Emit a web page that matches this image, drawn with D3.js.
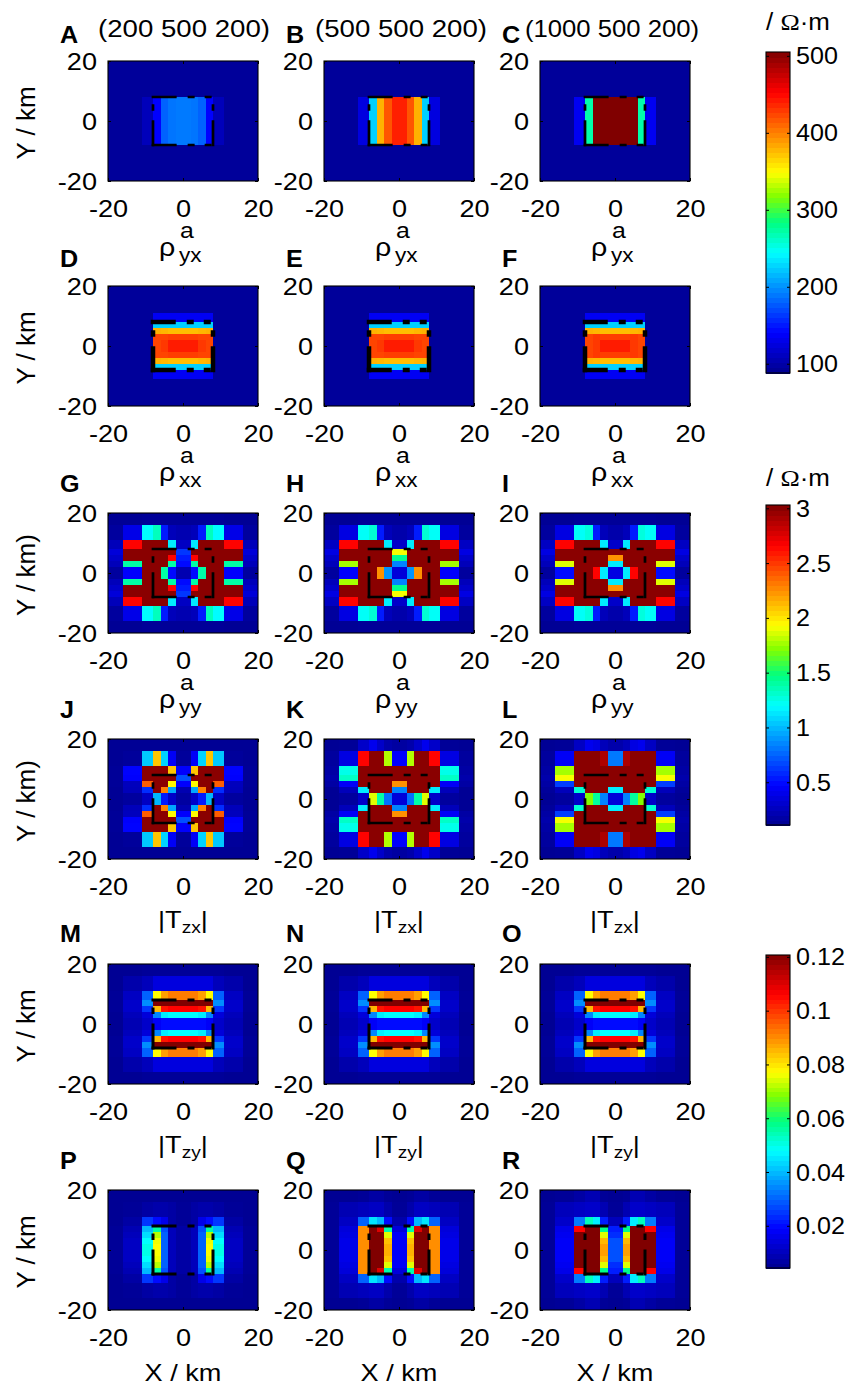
<!DOCTYPE html>
<html><head><meta charset="utf-8">
<script src="https://cdn.jsdelivr.net/npm/d3@7/dist/d3.min.js"></script>
<style>
html,body{margin:0;padding:0;background:#fff}
svg{display:block}
text{font-family:"Liberation Sans",Arial,sans-serif;fill:#000}
</style></head><body>
<script>
// cell edges of one quadrant, km from outside to the centre (the grid is mirrored in x and y)
const edgesKm = [20,16,11,8,6,4,2,0];
const axisTicks = [-20,0,20];
const panelLetters = ["A","B","C","D","E","F","G","H","I","J","K","L","M","N","O","P","Q","R"];
const columnTitles = ["(200 500 200)","(500 500 200)","(1000 500 200)"];
const yLabels = ["Y / km","Y / km","Y / km)","Y / km)","Y / km","Y / km"];
const cbTicks1 = [100,200,300,400,500];
const cbTicks2 = [0.5,1,1.5,2,2.5,3];
const cbTicks3 = [0.02,0.04,0.06,0.08,0.1,0.12];
const cbLabels3 = ["0.02","0.04","0.06","0.08","0.1","0.12"];

// quadrant values: rows |y| 16-20 ... 0-2, columns |x| 16-20 ... 0-2
const panelA=[[93,93,93,93,93,93,93],[93,93,93,93,93,93,93],[93,93,93,93,93,93,93],
 [93,93,108,140,180,188,190],[93,93,108,140,180,188,190],[93,93,108,140,180,188,190],[93,93,108,140,180,188,190]];
const panelB=[[93,93,93,93,93,93,93],[93,93,93,93,93,93,93],[93,93,93,93,93,93,93],
 [93,93,125,225,380,418,440],[93,93,125,225,380,418,440],[93,93,125,225,380,418,440],[93,93,125,225,380,418,440]];
const panelC=[[93,93,93,93,93,93,93],[93,93,93,93,93,93,93],[93,93,93,93,93,93,93],
 [93,93,134,271,505,505,505],[93,93,134,271,505,505,505],[93,93,134,271,505,505,505],[93,93,134,271,505,505,505]];
const panelD=[[93,93,93,93,93,93,93],[93,93,93,93,93,93,93],[93,93,93,135,135,135,135],
 [93,93,93,225,225,225,225],[93,93,93,380,378,375,375],[93,93,93,425,425,428,428],[93,93,93,425,430,442,442]];
const panelE=[[93,93,93,93,93,93,93],[93,93,93,93,93,93,93],[93,93,93,135,135,135,135],
 [93,93,93,225,225,225,225],[93,93,93,380,378,375,375],[93,93,93,425,425,428,428],[93,93,93,425,430,442,442]];
const panelF=[[93,93,93,93,93,93,93],[93,93,93,93,93,93,93],[93,93,93,135,135,135,135],
 [93,93,93,225,225,225,225],[93,93,93,380,378,375,375],[93,93,93,425,430,428,428],[93,93,93,425,430,442,442]];
const panelG=[[.13,.13,.14,.14,.14,.14,.14],[.16,.4,1.2,1.35,.55,.25,.22],[.25,2.66,3,3,3,1.15,.28],
 [.35,3,3,3,3,3,.63],[.3,3,3,3,3,2.66,.55],[.25,1.4,3,3,3,1.4,.5],[.16,.47,3,3,1.4,.5,.22]];
const panelH=[[.13,.13,.14,.14,.14,.14,.14],[.16,.38,1.22,1.3,.55,.25,.2],[.28,2.66,3,3,3,1.15,.3],
 [.38,3,3,3,3,3,1.92],[.3,3,3,3,3,3,1.45],[.25,1.78,3,3,3,3,.85],[.16,.47,3,3,2.25,.9,.35]];
const panelI=[[.13,.13,.14,.14,.14,.14,.14],[.16,.38,1.22,1.28,.55,.25,.2],[.28,2.66,3,3,3,1.15,.3],
 [.38,3,3,3,3,3,3],[.3,3,3,3,3,3,2.25],[.25,1.88,3,3,3,3,1.15],[.16,.5,3,3,2.66,1.15,.38]];
const panelJ=[[.13,.13,.13,.13,.13,.13,.13],[.13,.15,1.05,2.1,1.08,.45,.15],[.14,.48,3,3,3,2.1,.47],
 [.14,.47,3,3,3,3,.7],[.14,.26,2.4,3,3,1.95,.47],[.13,.25,.6,3,2.3,.95,.22],[.13,.16,.28,1,.55,.3,.17]];
const panelK=[[.13,.14,.3,.42,.3,.2,.17],[.16,.38,2.66,3,3,1.8,.47],[.18,1.25,3,3,3,3,3],
 [.2,1.33,3,3,3,3,3],[.18,.45,3,3,3,3,2.25],[.13,.25,1.15,3,3,3,.85],[.13,.16,.3,1.88,1.4,.8,.35]];
const panelL=[[.13,.14,.28,.42,.38,.25,.2],[.16,.45,3,3,3,2.9,.82],[.18,1.78,3,3,3,3,3],
 [.2,1.92,3,3,3,3,3],[.18,.65,3,3,3,3,3],[.15,.25,1.3,3,3,3,1.15],[.13,.16,.3,1.72,1.42,.85,.35]];
const panelM=[[.005,.005,.0055,.0055,.0055,.0055,.0055],[.005,.008,.01,.0145,.0145,.0145,.0145],[.0055,.011,.03,.077,.088,.092,.092],
 [.0055,.012,.035,.121,.121,.121,.121],[.0055,.012,.025,.085,.104,.106,.106],[.005,.01,.014,.034,.046,.048,.048],[.005,.009,.012,.018,.02,.02,.02]];
const panelN=[[.005,.005,.0055,.0055,.0055,.0055,.0055],[.005,.008,.01,.0145,.0145,.0145,.0145],[.0055,.011,.03,.077,.088,.092,.092],
 [.0055,.012,.035,.121,.121,.121,.121],[.0055,.012,.025,.085,.104,.106,.106],[.005,.01,.014,.034,.046,.048,.048],[.005,.009,.012,.018,.02,.02,.02]];
const panelO=[[.005,.005,.0055,.0055,.0055,.0055,.0055],[.005,.008,.01,.0145,.0145,.0145,.0145],[.0055,.011,.03,.077,.088,.092,.092],
 [.0055,.012,.035,.121,.121,.121,.121],[.0055,.012,.025,.085,.104,.106,.106],[.005,.01,.014,.034,.046,.048,.048],[.005,.009,.012,.018,.02,.02,.02]];
const panelP=[[.005,.005,.005,.005,.005,.005,.005],[.005,.0055,.007,.008,.008,.007,.0055],[.005,.007,.025,.02,.016,.007,.0055],
 [.0055,.009,.04,.056,.028,.01,.007],[.0055,.01,.044,.072,.03,.01,.007],[.0055,.011,.048,.076,.03,.01,.007],[.0055,.011,.05,.077,.03,.01,.007]];
const panelQ=[[.005,.005,.0055,.007,.007,.0055,.005],[.0055,.009,.01,.011,.011,.008,.0055],[.0055,.011,.03,.045,.04,.02,.008],
 [.0055,.014,.09,.121,.11,.055,.014],[.0055,.015,.09,.121,.121,.075,.018],[.0055,.016,.09,.121,.121,.084,.018],[.0055,.016,.09,.121,.121,.086,.018]];
const panelR=[[.005,.0055,.007,.009,.009,.0055,.005],[.0055,.01,.011,.012,.012,.009,.0055],[.0055,.012,.033,.054,.046,.022,.01],
 [.0055,.016,.106,.121,.121,.058,.022],[.0055,.017,.121,.121,.121,.075,.024],[.0055,.018,.121,.121,.121,.085,.028],[.0055,.018,.121,.121,.121,.088,.028]];

const panels=[panelA,panelB,panelC,panelD,panelE,panelF,panelG,panelH,panelI,panelJ,panelK,panelL,panelM,panelN,panelO,panelP,panelQ,panelR];
const panelRowOfGroup=[0,0,1,1,2,2];
const groupDomains=[[88,505],[.11,3.03],[.0043,.1207]];

const jetStops=[0,.125,.375,.47,.55,.625,.875,1];
const jetColors=["#00008f","#0000ff","#00ffff","#00ff80","#80ff00","#ffff00","#ff0000","#800000"];
const jet=d3.scaleLinear().domain(jetStops).range(jetColors).interpolate(d3.interpolateRgb).clamp(true);

const W=848,H=1389, SX=1.13;
const colX=[108,324,540], rowY=[61,286,513,739,964,1190], PW=150, PH=120;
const rectWidth=[2.7,4.5,2.7,2.7,3,3];
const svg=d3.select("body").append("svg").attr("width",W).attr("height",H);

function txt(g,x,y,s,size,opt={}){
  const sx=opt.sx===undefined?SX:opt.sx;
  return g.append("text").attr("transform",`translate(${x},${y}) scale(${sx},1)`)
    .attr("text-anchor",opt.anchor||"middle").attr("font-size",size).attr("font-weight",opt.weight||"normal").text(s);
}

const x=d3.scaleLinear().domain([-20,20]).range([0,PW]);
const y=d3.scaleLinear().domain([-20,20]).range([PH,0]);
const n=edgesKm.length-1;
// signed cell list of the full grid
const cells=[];
for(let r=0;r<n;r++)for(let c=0;c<n;c++)for(const sy of [1,-1])for(const sx of [1,-1])cells.push({r,c,sx,sy});

panels.forEach((q,i)=>{
  const col=i%3,row=Math.floor(i/3),grp=panelRowOfGroup[row];
  const t=d3.scaleLinear().domain(groupDomains[grp]).range([0,1]);
  const g=svg.append("g").attr("transform",`translate(${colX[col]},${rowY[row]})`);
  g.selectAll("rect.cell").data(cells).join("rect").attr("class","cell").attr("shape-rendering","crispEdges")
    .attr("x",d=>Math.min(x(d.sx*edgesKm[d.c]),x(d.sx*edgesKm[d.c+1])))
    .attr("width",d=>Math.abs(x(edgesKm[d.c])-x(edgesKm[d.c+1])))
    .attr("y",d=>Math.min(y(d.sy*edgesKm[d.r]),y(d.sy*edgesKm[d.r+1])))
    .attr("height",d=>Math.abs(y(edgesKm[d.r])-y(edgesKm[d.r+1])))
    .attr("fill",d=>jet(t(q[d.r][d.c])));
  // survey rectangle
  const lw=rectWidth[row];
  const hDash=[25-lw,11+lw,7-lw,10+lw,7-lw,200].join(" ");
  const vDash=[26-lw,9.5+lw,6.5-lw,200].join(" ");
  const seg=(x1,y1,x2,y2,dash)=>g.append("line").attr("x1",x(x1)).attr("y1",y(y1)).attr("x2",x(x2)).attr("y2",y(y2))
    .attr("stroke","#000").attr("stroke-width",lw).attr("stroke-linecap","square").attr("stroke-dasharray",dash);
  seg(-8,8,8,8,hDash);seg(-8,-8,8,-8,hDash);
  seg(-8,-8,-8,8,vDash);seg(8,-8,8,8,vDash);
  // axes
  const styleAxis=a=>{a.select(".domain").remove();a.selectAll("line").attr("stroke","#000").attr("stroke-width",1);};
  const ab=g.append("g").attr("transform",`translate(0,${PH})`).call(d3.axisBottom(x).tickValues(axisTicks).tickSizeInner(-3).tickSizeOuter(0).tickPadding(0));
  styleAxis(ab);
  ab.selectAll("text").attr("y",null).attr("dy",null).attr("font-size",24).attr("font-family",null)
    .attr("transform",`translate(0,36) scale(${SX},1)`).text(d=>d);
  const al=g.append("g").call(d3.axisLeft(y).tickValues(axisTicks).tickSizeInner(-3).tickSizeOuter(0));
  styleAxis(al);
  al.selectAll("text").attr("x",null).attr("dy",null).attr("font-size",24).attr("font-family",null)
    .attr("transform",`translate(-11,8) scale(${SX},1)`).attr("text-anchor","end").text(d=>d);
  styleAxis(g.append("g").call(d3.axisTop(x).tickValues(axisTicks).tickSizeInner(-3).tickSizeOuter(0).tickFormat("")));
  styleAxis(g.append("g").attr("transform",`translate(${PW},0)`).call(d3.axisRight(y).tickValues(axisTicks).tickSizeInner(-3).tickSizeOuter(0).tickFormat("")));
  g.append("rect").attr("width",PW).attr("height",PH).attr("fill","none").attr("stroke","#000").attr("stroke-width",1.1);
});

// panel letters
const letterX=[60,286,502], letterY=[43,267,492,718,942,1169];
panelLetters.forEach((s,i)=>txt(svg,letterX[i%3],letterY[Math.floor(i/3)],s,24,{weight:"bold",anchor:"start",sx:1.05}));
// column titles
const titleX=[184,401,612], titleSX=[1.15,1.15,1.07];
columnTitles.forEach((s,i)=>txt(svg,titleX[i],37,s,24,{sx:titleSX[i]}));
// y labels
yLabels.forEach((s,i)=>svg.append("text").attr("transform",`translate(35,${rowY[i]+62}) rotate(-90)`)
  .attr("text-anchor","middle").attr("font-size",26).text(s));
// x labels
colX.forEach(cx=>txt(svg,cx+75,1381,"X / km",24));

// rho and |T| labels under the rows
const rhoSubs=["yx","xx","yy"], tSubs=["zx","zy"];
colX.forEach(cx=>{
  rhoSubs.forEach((s,i)=>{
    const top=rowY[i];
    const ox=cx+51;
    txt(svg,ox,top+195,"ρ",26,{anchor:"start",sx:1.1});
    txt(svg,ox+21,top+177,"a",22,{anchor:"start"});
    txt(svg,ox+20,top+201,s,20,{anchor:"start"});
  });
  tSubs.forEach((s,i)=>{
    const top=rowY[3+i];
    const tx=svg.append("text").attr("transform",`translate(${cx+75},${top+189}) scale(${SX},1)`).attr("text-anchor","middle").attr("font-size",24);
    tx.append("tspan").text("|T");
    tx.append("tspan").attr("font-size",17).attr("dy",5).text(s);
    tx.append("tspan").attr("dy",-5).text("|");
  });
});

// colour bars
const bars=[
 {dom:groupDomains[0],r:[373,52],ticks:cbTicks1,fmt:d=>d},
 {dom:groupDomains[1],r:[825,505],ticks:cbTicks2,fmt:d=>d},
 {dom:groupDomains[2],r:[1268,955],ticks:cbTicks3,fmt:(d,i)=>cbLabels3[i]}
];
const bx=766,bw=24;
bars.forEach(b=>{
  const s=d3.scaleLinear().domain(b.dom).range(b.r);
  const lv=d3.range(64);
  const g=svg.append("g");
  const h=(b.r[0]-b.r[1])/64;
  g.selectAll("rect").data(lv).join("rect").attr("x",bx).attr("width",bw).attr("shape-rendering","crispEdges")
    .attr("y",d=>b.r[0]-(d+1)*h).attr("height",h+.5).attr("fill",d=>jet((d+.5)/64));
  const ax=g.append("g").attr("transform",`translate(${bx+bw},0)`)
    .call(d3.axisRight(s).tickValues(b.ticks).tickSizeInner(-3).tickSizeOuter(0).tickFormat(b.fmt));
  ax.select(".domain").remove();
  ax.selectAll("line").attr("stroke","#000");
  ax.selectAll("text").attr("x",null).attr("dy",null).attr("font-size",23.5).attr("font-family",null)
    .attr("transform",`translate(6,8) scale(1.07,1)`).attr("text-anchor","start");
  const al=g.append("g").attr("transform",`translate(${bx},0)`)
    .call(d3.axisLeft(s).tickValues(b.ticks).tickSizeInner(-3).tickSizeOuter(0).tickFormat(""));
  al.select(".domain").remove();al.selectAll("line").attr("stroke","#000");
  g.append("rect").attr("x",bx).attr("y",b.r[1]).attr("width",bw).attr("height",b.r[0]-b.r[1]).attr("fill","none").attr("stroke","#000").attr("stroke-width",1.1);
});
// unit labels
[30,486].forEach(yy=>{
  const t=svg.append("text").attr("transform",`translate(766,${yy}) scale(1.08,1)`).attr("font-size",24);
  t.append("tspan").text("/ ");
  t.append("tspan").attr("font-family","Liberation Serif").text("Ω");
  t.append("tspan").text("·m");
});
</script></body></html>
